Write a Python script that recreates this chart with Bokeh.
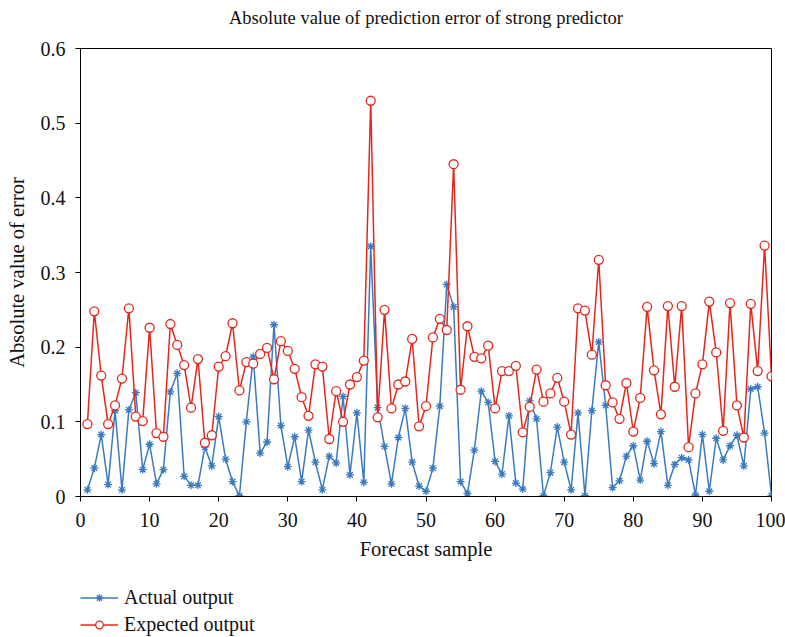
from bokeh.plotting import figure
from bokeh.models import Legend, LegendItem, FixedTicker, Title, Range1d
from bokeh.layouts import column
from bokeh.embed import file_html
from bokeh.resources import INLINE

samples = list(range(1, 101))

actual = [
    0.009, 0.038, 0.083, 0.016, 0.115, 0.009, 0.116, 0.139, 0.036, 0.070,
    0.017, 0.036, 0.140, 0.165, 0.027, 0.015, 0.015, 0.066, 0.041, 0.107,
    0.050, 0.020, 0.001, 0.100, 0.187, 0.058, 0.073, 0.230, 0.095, 0.040,
    0.080, 0.020, 0.089, 0.046, 0.009, 0.054, 0.045, 0.134, 0.029, 0.112,
    0.019, 0.335, 0.119, 0.067, 0.017, 0.079, 0.118, 0.046, 0.014, 0.007,
    0.038, 0.121, 0.284, 0.254, 0.020, 0.004, 0.062, 0.141, 0.126, 0.047,
    0.030, 0.108, 0.018, 0.010, 0.128, 0.104, 0.001, 0.032, 0.093, 0.046,
    0.009, 0.112, 0.001, 0.115, 0.207, 0.122, 0.012, 0.021, 0.054, 0.068,
    0.022, 0.074, 0.044, 0.087, 0.015, 0.043, 0.052, 0.049, 0.002, 0.083,
    0.007, 0.078, 0.049, 0.068, 0.082, 0.041, 0.144, 0.147, 0.085, 0.001,
]

expected = [
    0.097, 0.248, 0.162, 0.097, 0.122, 0.158, 0.252, 0.107, 0.101, 0.226,
    0.085, 0.080, 0.231, 0.203, 0.176, 0.119, 0.184, 0.072, 0.082, 0.174,
    0.188, 0.232, 0.142, 0.180, 0.178, 0.191, 0.199, 0.157, 0.208, 0.195,
    0.171, 0.133, 0.108, 0.177, 0.174, 0.077, 0.141, 0.100, 0.150, 0.160,
    0.182, 0.530, 0.106, 0.250, 0.118, 0.150, 0.154, 0.211, 0.094, 0.121,
    0.213, 0.238, 0.223, 0.445, 0.143, 0.228, 0.187, 0.185, 0.202, 0.118,
    0.168, 0.168, 0.175, 0.086, 0.120, 0.170, 0.127, 0.138, 0.159, 0.127,
    0.083, 0.252, 0.249, 0.190, 0.317, 0.149, 0.126, 0.104, 0.152, 0.087,
    0.132, 0.254, 0.169, 0.110, 0.255, 0.147, 0.255, 0.066, 0.138, 0.177,
    0.261, 0.193, 0.088, 0.259, 0.122, 0.079, 0.258, 0.168, 0.336, 0.161,
]

x_ticks = [0, 10, 20, 30, 40, 50, 60, 70, 80, 90, 100]
y_ticks = [0, 0.1, 0.2, 0.3, 0.4, 0.5, 0.6]
y_tick_labels = ["0", "0.1", "0.2", "0.3", "0.4", "0.5", "0.6"]
series_names = ["Actual output", "Expected output"]

BLUE = "#3a7bc0"
RED = "#e2281d"
FONT = "Liberation Serif"

p = figure(width=785, height=570, x_range=(0, 100), y_range=(0, 0.6),
           output_backend="svg", toolbar_location=None,
           min_border_left=80, min_border_right=14, min_border_top=48,
           min_border_bottom=74)

# a blank spacer next to the frame lifts the title toward the top edge
spacer = Title(text=" ", text_font_size="1px", standoff=18)
p.add_layout(spacer, "above")
t = Title(text="Absolute value of prediction error of strong predictor",
          align="center", text_font=FONT,
          text_font_size="18.5px", text_font_style="normal",
          text_color="#111111", standoff=0)
p.add_layout(t, "above")

p.grid.visible = False
p.outline_line_color = "black"
p.outline_line_width = 1
p.background_fill_color = "white"
p.border_fill_color = "white"

for ax in (p.xaxis[0], p.yaxis[0]):
    ax.axis_line_color = "black"
    ax.major_tick_line_color = "black"
    ax.minor_tick_line_color = None
    ax.major_tick_in = 0
    ax.major_tick_out = 5
    ax.major_label_text_font = FONT
    ax.major_label_text_font_size = "20px"
    ax.major_label_text_color = "#111111"
    ax.axis_label_text_font = FONT
    ax.axis_label_text_font_size = "20.5px"
    ax.axis_label_text_font_style = "normal"
    ax.axis_label_text_color = "#111111"

p.xaxis.ticker = FixedTicker(ticks=x_ticks)
p.yaxis.ticker = FixedTicker(ticks=y_ticks)
p.yaxis.major_label_overrides = {v: s for v, s in zip(y_ticks, y_tick_labels)}
p.xaxis.axis_label = "Forecast sample"
p.yaxis.axis_label = "Absolute value of error"
p.xaxis.major_label_standoff = 11
p.yaxis.major_label_standoff = 10
p.xaxis.axis_label_standoff = 8
p.yaxis.axis_label_standoff = 10

p.line(samples, actual, line_color=BLUE, line_width=1.5)
p.scatter(samples, actual, marker="asterisk", size=8, line_color=BLUE,
          line_width=1.3)
p.line(samples, expected, line_color=RED, line_width=1.5)
p.scatter(samples, expected, marker="circle", size=9, line_color=RED,
          fill_color="white", line_width=1.3)

# legend strip below the chart (its series sit outside its visible range,
# so only the legend samples show)
q = figure(width=785, height=67, x_range=Range1d(0, 100),
           y_range=Range1d(10, 11),
           output_backend="svg", toolbar_location=None,
           x_axis_type=None, y_axis_type=None,
           min_border_left=80, min_border_right=14, min_border_top=0,
           min_border_bottom=0)
q.grid.visible = False
q.outline_line_color = None
q.background_fill_color = "white"
q.border_fill_color = "white"

ql1 = q.line(samples, actual, line_color=BLUE, line_width=1.5)
qs1 = q.scatter(samples, actual, marker="asterisk", size=8, line_color=BLUE,
                line_width=1.3)
ql2 = q.line(samples, expected, line_color=RED, line_width=1.5)
qs2 = q.scatter(samples, expected, marker="circle", size=9, line_color=RED,
                fill_color="white", line_width=1.3)

legend = Legend(items=[LegendItem(label=series_names[0], renderers=[ql1, qs1]),
                       LegendItem(label=series_names[1], renderers=[ql2, qs2])],
                location=(0, 1), orientation="vertical",
                border_line_color=None, background_fill_alpha=0,
                padding=0, spacing=4, margin=0,
                label_text_font=FONT, label_text_font_size="20px",
                label_text_color="#111111",
                glyph_width=38, glyph_height=19, label_height=19,
                label_standoff=6)
q.add_layout(legend, "center")

layout = column(p, q, spacing=0)
open("out.html", "w").write(file_html(layout, INLINE))
